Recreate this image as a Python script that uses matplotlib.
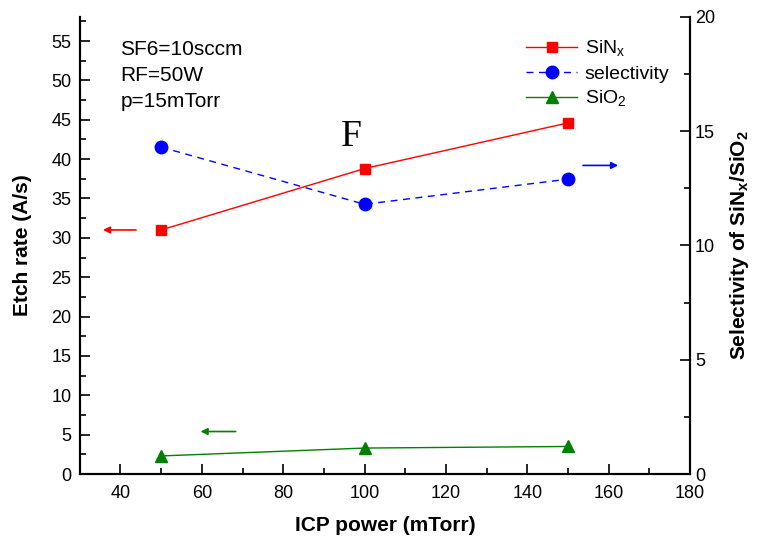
import matplotlib
matplotlib.use("Agg")
import matplotlib.pyplot as plt
from matplotlib.ticker import MultipleLocator

plt.rcParams['font.family'] = ['Liberation Sans', 'DejaVu Sans']
plt.rcParams['mathtext.fontset'] = 'custom'
plt.rcParams['mathtext.rm'] = 'Liberation Sans'
plt.rcParams['mathtext.bf'] = 'Liberation Sans:bold'

power = [50, 100, 150]
sinx_rate = [31.0, 38.8, 44.6]
sio2_rate = [2.3, 3.3, 3.5]
selectivity = [14.3, 11.8, 12.9]

fig = plt.figure(figsize=(7.6, 5.43), dpi=100)
ax = fig.add_axes([0.105, 0.127, 0.803, 0.842])
ax2 = ax.twinx()

l1, = ax.plot(power, sinx_rate, color='red', lw=1.0, marker='s', ms=7, label='SiN$_\\mathregular{x}$')
l3, = ax.plot(power, sio2_rate, color='green', lw=1.0, marker='^', ms=9, label='SiO$_\\mathregular{2}$')
l2, = ax2.plot(power, selectivity, color='blue', lw=1.0, ls=(0, (5, 4)), marker='o', ms=9, label='selectivity')

ax.set_xlim(30, 180)
ax.set_ylim(0, 58.07)
ax2.set_ylim(0, 20)

ax.xaxis.set_major_locator(MultipleLocator(20))
ax.xaxis.set_minor_locator(MultipleLocator(10))
ax.yaxis.set_major_locator(MultipleLocator(5))
ax.yaxis.set_minor_locator(MultipleLocator(2.5))
ax2.yaxis.set_major_locator(MultipleLocator(5))
ax2.yaxis.set_minor_locator(MultipleLocator(2.5))

for a in (ax, ax2):
    a.spines['top'].set_visible(False)
    a.spines['left'].set_linewidth(1.5)
    a.spines['right'].set_linewidth(1.5)
    a.spines['bottom'].set_linewidth(1.5)
    a.tick_params(which='major', direction='in', length=7, width=1.2, labelsize=13)
    a.tick_params(which='minor', direction='in', length=4, width=1.2)

ax.tick_params(axis='x', pad=8)
ax.tick_params(axis='y', pad=6)
ax.set_xlabel('ICP power (mTorr)', fontsize=15, fontweight='bold', labelpad=10)
ax.set_ylabel('Etch rate (A/s)', fontsize=15, fontweight='bold', labelpad=14)
ax2.set_ylabel('Selectivity of SiN$_\\mathbf{x}$/SiO$_\\mathbf{2}$', fontsize=15, fontweight='bold', labelpad=9)

ax.text(40, 55.1, 'SF6=10sccm\nRF=50W\np=15mTorr', fontsize=15, va='top', linespacing=1.45)
ax.text(96.8, 40.7, 'F', fontsize=27, family='Liberation Serif', va='bottom', ha='center')

# direction arrows
ax.annotate('', xy=(35.0, 31.0), xytext=(44.5, 31.0),
            arrowprops=dict(arrowstyle='-|>', color='red', lw=1.2, mutation_scale=10))
ax.annotate('', xy=(59.0, 5.4), xytext=(69.0, 5.4),
            arrowprops=dict(arrowstyle='-|>', color='green', lw=1.2, mutation_scale=10))
ax2.annotate('', xy=(163, 13.5), xytext=(153, 13.5),
             arrowprops=dict(arrowstyle='-|>', color='blue', lw=1.2, mutation_scale=10))

leg = ax.legend([l1, l2, l3], [l1.get_label(), l2.get_label(), l3.get_label()],
                loc='upper right', bbox_to_anchor=(0.995, 0.99), frameon=False,
                fontsize=14, handlelength=2.6, handletextpad=0.4, labelspacing=0.3)

fig.savefig('out.png', dpi=100)
